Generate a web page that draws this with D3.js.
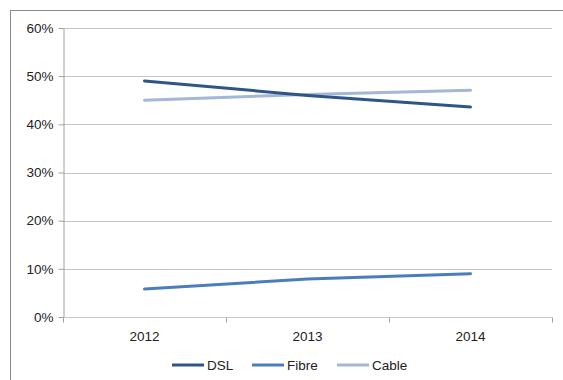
<!DOCTYPE html>
<html>
<head>
<meta charset="utf-8">
<script src="https://cdn.jsdelivr.net/npm/d3@7"></script>
<style>
  html, body { margin: 0; padding: 0; background: #fff; }
  svg { display: block; font-family: "Liberation Sans", Arial, sans-serif; }
</style>
</head>
<body>
<svg id="chart" width="563" height="380"></svg>
<script>
// Broadband market share by technology
const years = ["2012", "2013", "2014"];
const dsl = [0.490, 0.460, 0.436];
const fibre = [0.058, 0.079, 0.090];
const cable = [0.450, 0.462, 0.471];
const yTicks = [0, 0.1, 0.2, 0.3, 0.4, 0.5, 0.6];

const series = [
  { name: "DSL", values: dsl, color: "#2f5587" },
  { name: "Fibre", values: fibre, color: "#4a7ebb" },
  { name: "Cable", values: cable, color: "#a3b7d8" }
];

const svg = d3.select("#chart");
const W = 563, H = 380;
const fontSize = 13.5;

// outer chart border
svg.append("rect")
  .attr("x", 10.5).attr("y", 10.5)
  .attr("width", W + 10).attr("height", H + 10)
  .attr("fill", "#fff").attr("stroke", "#8a8a8a").attr("stroke-width", 1);

const plot = { left: 63, right: 552, top: 28, bottom: 317 };

const x = d3.scaleBand().domain(years).range([plot.left, plot.right]);
const y = d3.scaleLinear().domain([0, 0.6]).range([plot.bottom, plot.top]);

// horizontal gridlines
svg.append("g")
  .selectAll("line")
  .data(yTicks)
  .join("line")
  .attr("x1", plot.left).attr("x2", plot.right)
  .attr("y1", d => Math.round(y(d)) + 0.5).attr("y2", d => Math.round(y(d)) + 0.5)
  .attr("stroke", "#c4c4c4").attr("stroke-width", 1);

// y axis
const yAxis = svg.append("g")
  .attr("transform", `translate(${plot.left + 0.5},0)`)
  .call(d3.axisLeft(y).tickValues(yTicks).tickFormat(d3.format(".0%")).tickSize(5).tickSizeOuter(0));
yAxis.select(".domain").attr("stroke", "#a0a0a0");
yAxis.selectAll(".tick line").attr("stroke", "#a0a0a0");
yAxis.selectAll(".tick text")
  .attr("x", -10)
  .attr("fill", "#222").attr("font-size", fontSize);

// x axis with ticks between categories
const xAxis = svg.append("g")
  .attr("transform", `translate(0,${Math.round(y(0)) + 0.5})`);
xAxis.append("line")
  .attr("x1", plot.left).attr("x2", plot.right)
  .attr("stroke", "#c8c8c8");
const bounds = years.map(d => x(d)).concat([plot.right]);
xAxis.selectAll("line.tk")
  .data(bounds)
  .join("line")
  .attr("class", "tk")
  .attr("x1", d => Math.round(d) + 0.5).attr("x2", d => Math.round(d) + 0.5)
  .attr("y1", 0).attr("y2", 5)
  .attr("stroke", "#a0a0a0");
xAxis.selectAll("text")
  .data(years)
  .join("text")
  .attr("x", d => x(d) + x.bandwidth() / 2)
  .attr("y", 23)
  .attr("text-anchor", "middle")
  .attr("fill", "#222").attr("font-size", fontSize)
  .text(d => d);

// series lines
const line = d3.line()
  .x((d, i) => x(years[i]) + x.bandwidth() / 2)
  .y(d => y(d));

svg.append("g")
  .selectAll("path")
  .data(series.slice().reverse())
  .join("path")
  .attr("d", s => line(s.values))
  .attr("fill", "none")
  .attr("stroke", s => s.color)
  .attr("stroke-width", 3)
  .attr("stroke-linecap", "round")
  .attr("stroke-linejoin", "round");

// legend
const legendX = [172, 252, 337];
const legend = svg.append("g").attr("transform", "translate(0,365)");
const items = legend.selectAll("g")
  .data(series)
  .join("g")
  .attr("transform", (d, i) => `translate(${legendX[i]},0)`);
items.append("line")
  .attr("x1", 0).attr("x2", 32)
  .attr("stroke", d => d.color).attr("stroke-width", 3);
items.append("text")
  .attr("x", 35).attr("y", 4.5)
  .attr("fill", "#222").attr("font-size", fontSize)
  .text(d => d.name);
</script>
</body>
</html>
